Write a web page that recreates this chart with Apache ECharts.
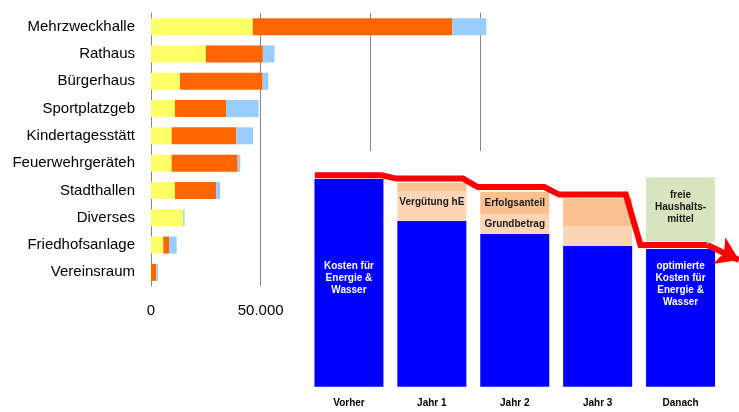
<!DOCTYPE html>
<html lang="de">
<head>
<meta charset="utf-8">
<title>Energiekosten</title>
<script src="https://cdn.jsdelivr.net/npm/echarts@6/dist/echarts.min.js"></script>
<style>
  html, body { margin: 0; padding: 0; background: #fff; }
  #wrap { position: relative; width: 739px; height: 412px; }
  #bars { position: absolute; left: 0; top: 0; width: 739px; height: 412px; }
  #phasen { position: absolute; left: 300px; top: 151px; width: 439px; height: 261px; background: #fff; }
</style>
</head>
<body>
<div id="wrap">
  <div id="bars"></div>
  <div id="phasen"></div>
</div>
<script>
// Liegenschaften, Kosten in EUR
const gebaeude = ['Mehrzweckhalle', 'Rathaus', 'Bürgerhaus', 'Sportplatzgeb', 'Kindertagesstätt',
  'Feuerwehrgeräteh', 'Stadthallen', 'Diverses', 'Friedhofsanlage', 'Vereinsraum']
const strom = [46400, 25000, 13200, 10900, 9400, 9400, 10900, 14700, 5600, 0]
const waerme = [91000, 26000, 37700, 23300, 29500, 30100, 18800, 0, 2600, 2400]
const wasser = [15500, 5300, 2600, 14900, 7600, 1200, 1800, 600, 3500, 800]
const xTicks = [0, 50000, 100000, 150000]

// Phasenmodell (Vorher = 100)
const phasen = ['Vorher', 'Jahr 1', 'Jahr 2', 'Jahr 3', 'Danach']
const kosten = [100, 79.8, 73.5, 67.9, 66.3]
const grundbetrag = [0, 14.2, 9.6, 9.5, 0]
const erfolgsanteil = [0, 4.2, 10.8, 13.3, 0]
const abstand = [0, 0, 0, 0, 3.5]
const haushaltsmittel = [0, 0, 0, 0, 31]
const gesamtLinie = [101.8, 100.2, 96.1, 92.5, 68.2]
const pfeilEnde = 61

const font = '"Liberation Sans", Arial, sans-serif'
const grau = '#868686'

function deZahl(v) {
  return String(v).replace(/\B(?=(\d{3})+(?!\d))/g, '.')
}

function initBars() {
  const chart = echarts.init(document.getElementById('bars'), null, { renderer: 'canvas' })
  const serie = (name, data, color) => ({
    name,
    type: 'bar',
    stack: 'kosten',
    data,
    barWidth: 17,
    clip: false,
    itemStyle: { color },
    emphasis: { disabled: true }
  })
  chart.setOption({
    animation: false,
    grid: { left: 151, top: 13, right: 259, bottom: 126 },
    xAxis: {
      type: 'value',
      min: xTicks[0],
      max: xTicks[xTicks.length - 1],
      interval: xTicks[1] - xTicks[0],
      axisLine: { show: false },
      axisTick: { show: false },
      splitLine: { lineStyle: { color: grau, width: 1 } },
      axisLabel: {
        margin: 17,
        fontFamily: font,
        fontSize: 15,
        color: '#000',
        formatter: deZahl
      }
    },
    yAxis: {
      type: 'category',
      data: gebaeude,
      inverse: true,
      axisLine: { lineStyle: { color: grau, width: 1 } },
      axisTick: { length: 4, lineStyle: { color: grau } },
      axisLabel: { margin: 16, fontFamily: font, fontSize: 15, color: '#000' }
    },
    series: [
      serie('Strom', strom, '#FFFF66'),
      serie('Wärme', waerme, '#FF6600'),
      serie('Wasser', wasser, '#99CCFF')
    ]
  })
  return chart
}

function withLabels(values, labels) {
  return values.map((v, i) => labels[i] ? { value: v, label: Object.assign({ show: true }, labels[i]) } : v)
}

function initPhasen() {
  const chart = echarts.init(document.getElementById('phasen'), null, { renderer: 'canvas' })
  const halfBar = 0.41
  const pfeilX = 5.3
  const band = 82.9
  const redPoints = []
  gesamtLinie.forEach((v, i) => {
    redPoints.push([i + 0.5 - halfBar, v], [i + 0.5 + halfBar, v])
  })

  const txt = { fontFamily: font, fontSize: 10, fontWeight: 'bold', lineHeight: 12 }
  const weiss = Object.assign({}, txt, { color: '#fff', align: 'center', verticalAlign: 'top' })
  const dunkel = Object.assign({}, txt, { color: '#1a1a1a' })

  const bar = (name, data, color) => ({
    name,
    type: 'bar',
    stack: 'phase',
    data,
    barWidth: 69,
    clip: false,
    itemStyle: { color },
    label: { show: false },
    emphasis: { disabled: true }
  })

  // grid 0: Saeulen, grid 1: rote Linie, Pfeilspitze laeuft ueber den Rand hinaus
  chart.setOption({
    animation: false,
    grid: [
      { left: 7.5, right: 17, top: 7.2, bottom: 25.3 },
      { left: 7.5, right: 17 - (pfeilX - 5) * band, top: 7.2, bottom: 25.3 }
    ],
    xAxis: [
      {
        type: 'category',
        gridIndex: 0,
        data: phasen,
        axisLine: { show: false },
        axisTick: { show: false },
        axisLabel: { margin: 12, fontFamily: font, fontSize: 10, fontWeight: 'bold', color: '#000' }
      },
      { type: 'value', gridIndex: 1, min: 0, max: pfeilX, show: false }
    ],
    yAxis: [
      { type: 'value', gridIndex: 0, min: 0, max: 110, show: false },
      { type: 'value', gridIndex: 1, min: 0, max: 110, show: false }
    ],
    series: [
      bar('Kosten', withLabels(kosten, [
        Object.assign({ formatter: 'Kosten für\nEnergie &\nWasser', position: ['50%', 81] }, weiss),
        null, null, null,
        Object.assign({ formatter: 'optimierte\nKosten für\nEnergie &\nWasser', position: ['50%', 11] }, weiss)
      ]), '#0000FF'),
      bar('Grundbetrag', withLabels(grundbetrag, [
        null,
        Object.assign({ formatter: 'Vergütung hE', position: ['50%', 5], align: 'center', verticalAlign: 'top' }, dunkel),
        Object.assign({ formatter: 'Grundbetrag', position: 'inside' }, dunkel),
        null, null
      ]), '#FCD5B5'),
      bar('Erfolgsanteil', withLabels(erfolgsanteil, [
        null, null,
        Object.assign({ formatter: 'Erfolgsanteil', position: 'inside' }, dunkel),
        null, null
      ]), '#FAC090'),
      bar('Abstand', abstand, 'rgba(0,0,0,0)'),
      bar('Haushaltsmittel', withLabels(haushaltsmittel, [
        null, null, null, null,
        Object.assign({ formatter: 'freie\nHaushalts-\nmittel', position: 'inside', offset: [0, -2] }, dunkel)
      ]), '#D7E4BD'),
      {
        name: 'Gesamt',
        type: 'line',
        xAxisIndex: 1,
        yAxisIndex: 1,
        data: redPoints,
        z: 5,
        clip: false,
        symbol: 'none',
        lineStyle: { color: '#FF0000', width: 6, join: 'miter' },
        emphasis: { disabled: true },
        markLine: {
          silent: true,
          symbol: ['none', 'arrow'],
          symbolSize: 22,
          label: { show: false },
          lineStyle: { color: '#FF0000', width: 6, type: 'solid' },
          emphasis: { disabled: true },
          data: [[
            { coord: [4.5 + halfBar, gesamtLinie[4]] },
            { coord: [pfeilX, pfeilEnde] }
          ]]
        }
      }
    ]
  })
  return chart
}

const barChart = initBars()
const phasenChart = initPhasen()

window.addEventListener('resize', () => {
  barChart.resize()
  phasenChart.resize()
})
</script>
</body>
</html>
